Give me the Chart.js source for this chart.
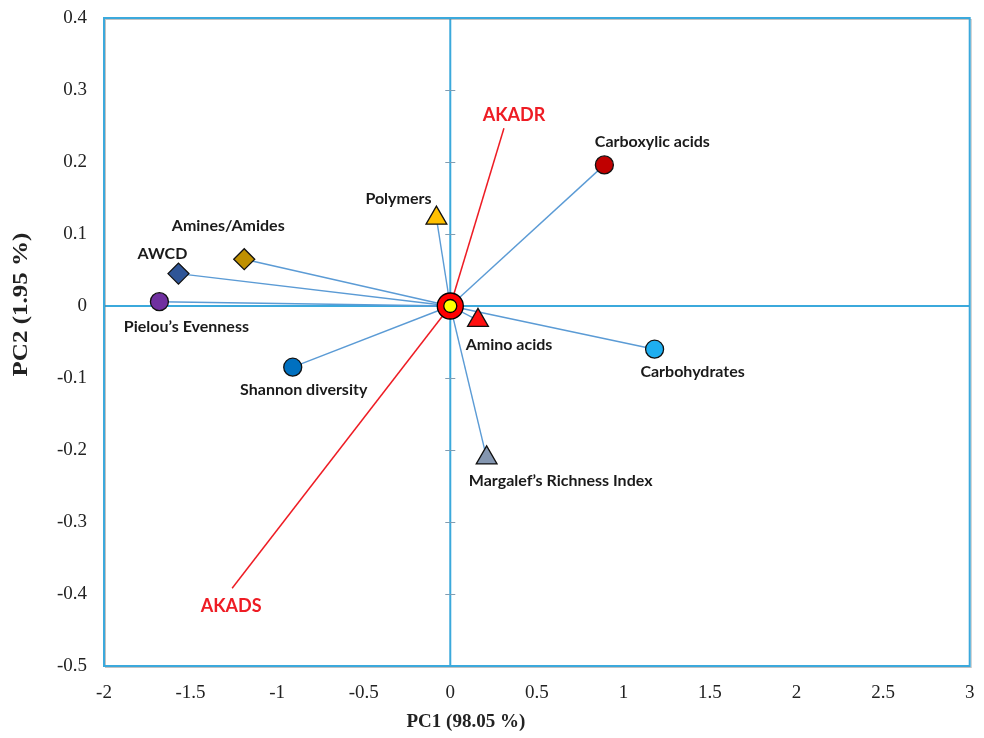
<!DOCTYPE html>
<html>
<head>
<meta charset="utf-8">
<script src="https://cdn.jsdelivr.net/npm/chart.js@4.4.1/dist/chart.umd.min.js"></script>
<style>
  html, body { margin: 0; padding: 0; background: #ffffff; }
  #wrap { width: 984px; height: 738px; position: relative; }
</style>
</head>
<body>
<div id="wrap"><canvas id="biplot"></canvas></div>
<script>
// PCA biplot: variable loadings and site vectors on PC1 / PC2
const variables = ['Carboxylic acids', 'Carbohydrates', 'Amino acids', 'Margalef\u2019s Richness Index',
                   'Polymers', 'Amines/Amides', 'AWCD', 'Pielou\u2019s Evenness', 'Shannon diversity'];
const pc1 = [0.89, 1.18, 0.16, 0.21, -0.08, -1.19, -1.57, -1.68, -0.91];
const pc2 = [0.196, -0.060, -0.020, -0.211, 0.122, 0.065, 0.045, 0.006, -0.085];

const sites = ['AKADR', 'AKADS'];
const sitePc1 = [0.31, -1.26];
const sitePc2 = [0.247, -0.392];

const xTickValues = [-2, -1.5, -1, -0.5, 0, 0.5, 1, 1.5, 2, 2.5, 3];
const yTickValues = [-0.5, -0.4, -0.3, -0.2, -0.1, 0, 0.1, 0.2, 0.3, 0.4];

const xTitle = 'PC1 (98.05 %)';
const yTitle = 'PC2 (1.95 %)';

// marker look per variable (same order as `variables`)
const markerShape = ['circle', 'circle', 'triangle', 'triangle', 'triangle', 'rectRot', 'rectRot', 'circle', 'circle'];
const markerFill = ['#c00000', '#1eaef0', '#ff1010', '#8496b0', '#ffc000', '#bf9000', '#2f5597', '#7030a0', '#0070c0'];
const markerSize = [9, 9, 12, 12, 12, 10.5, 10.5, 9, 9];
// label placement relative to the marker, in pixels
const labelShift = [[48, -23], [38, 23], [31, 24], [74, 23], [-38, -19], [-16, -33], [-16, -20], [27, 25], [11, 23]];
const siteLabelShift = [[10, -13], [-1, 18]];

const AXIS_BLUE = '#3ba9dc';
const VECTOR_BLUE = '#5b9bd5';
const SITE_RED = '#ee1c24';
const SERIF = '"Liberation Serif", "Times New Roman", serif';

const datasets = [];

// origin marker (drawn on top)
datasets.push({
  type: 'scatter', order: 0, data: [{ x: 0, y: 0 }],
  pointStyle: 'circle', pointRadius: 6.5, backgroundColor: '#ffff00', borderColor: '#000', borderWidth: 1.3
});
datasets.push({
  type: 'scatter', order: 1, data: [{ x: 0, y: 0 }],
  pointStyle: 'circle', pointRadius: 13, backgroundColor: '#ff0000', borderColor: '#000', borderWidth: 1.3
});

// variable markers
variables.forEach((name, i) => {
  datasets.push({
    type: 'scatter', order: 2, label: name, data: [{ x: pc1[i], y: pc2[i] }],
    pointStyle: markerShape[i], pointRadius: markerSize[i],
    backgroundColor: markerFill[i], borderColor: '#111', borderWidth: 1.3
  });
});

// loading vectors from the origin
variables.forEach((name, i) => {
  datasets.push({
    type: 'line', order: 4, data: [{ x: 0, y: 0 }, { x: pc1[i], y: pc2[i] }],
    borderColor: VECTOR_BLUE, borderWidth: 1.4, pointRadius: 0, fill: false
  });
});

// site vectors
sites.forEach((name, i) => {
  datasets.push({
    type: 'line', order: 3, data: [{ x: 0, y: 0 }, { x: sitePc1[i], y: sitePc2[i] }],
    borderColor: SITE_RED, borderWidth: 1.5, pointRadius: 0, fill: false
  });
});

// frame, zero axes, small ticks along the vertical zero line, axis titles
const framePlugin = {
  id: 'frame',
  beforeDatasetsDraw(chart) {
    const { ctx, chartArea: a, scales: { x, y } } = chart;
    ctx.save();
    ctx.strokeStyle = AXIS_BLUE;
    ctx.lineWidth = 2;
    const x0 = x.getPixelForValue(0);
    const y0 = y.getPixelForValue(0);
    ctx.beginPath();
    ctx.moveTo(a.left, y0); ctx.lineTo(a.right, y0);
    ctx.moveTo(x0, a.top); ctx.lineTo(x0, a.bottom);
    ctx.stroke();
    ctx.strokeStyle = '#7f9db3';
    ctx.lineWidth = 1.2;
    ctx.beginPath();
    yTickValues.forEach(v => {
      if (v === 0) return;
      const py = Math.round(y.getPixelForValue(v)) + 0.5;
      ctx.moveTo(x0 - 5, py); ctx.lineTo(x0 + 5, py);
    });
    ctx.stroke();
    ctx.restore();
  },
  afterDraw(chart) {
    const { ctx, chartArea: a, scales: { x, y } } = chart;
    ctx.save();
    ctx.strokeStyle = 'rgba(120,120,120,0.45)';
    ctx.lineWidth = 1;
    ctx.strokeRect(a.left + 1.5, a.top + 1.5, a.right - a.left, a.bottom - a.top);
    ctx.strokeStyle = AXIS_BLUE;
    ctx.lineWidth = 2;
    ctx.strokeRect(a.left, a.top, a.right - a.left, a.bottom - a.top);

    // axis titles
    ctx.fillStyle = '#222';
    ctx.textAlign = 'center';
    ctx.textBaseline = 'middle';
    ctx.font = 'bold 19px ' + SERIF;
    ctx.fillText(xTitle, x.getPixelForValue(0.09), 722);
    ctx.save();
    ctx.translate(22, y.getPixelForValue(0.002));
    ctx.rotate(-Math.PI / 2);
    ctx.scale(1.25, 1);
    ctx.font = 'bold 20px ' + SERIF;
    ctx.fillText(yTitle, 0, 0);
    ctx.restore();
    ctx.restore();
  }
};

// text labels next to markers and vector tips
const labelPlugin = {
  id: 'labels',
  afterDatasetsDraw(chart) {
    const { ctx, scales: { x, y } } = chart;
    ctx.save();
    ctx.textAlign = 'center';
    ctx.textBaseline = 'middle';
    ctx.font = 'bold 16px Lato, "Open Sans", sans-serif';
    ctx.fillStyle = '#1a1a1a';
    variables.forEach((name, i) => {
      const px = x.getPixelForValue(pc1[i]) + labelShift[i][0];
      const py = y.getPixelForValue(pc2[i]) + labelShift[i][1];
      ctx.fillText(name, px, py);
    });
    ctx.font = 'bold 18px Lato, "Open Sans", sans-serif';
    ctx.fillStyle = SITE_RED;
    sites.forEach((name, i) => {
      const px = x.getPixelForValue(sitePc1[i]) + siteLabelShift[i][0];
      const py = y.getPixelForValue(sitePc2[i]) + siteLabelShift[i][1];
      ctx.fillText(name, px, py);
    });
    ctx.restore();
  }
};

const tickFont = { family: SERIF, size: 19 };

new Chart(document.getElementById('biplot'), {
  data: { datasets },
  plugins: [framePlugin, labelPlugin],
  options: {
    responsive: true,
    maintainAspectRatio: false,
    animation: false,
    layout: { padding: { top: 18, right: 14, left: 0, bottom: 0 } },
    plugins: { legend: { display: false }, tooltip: { enabled: false } },
    scales: {
      x: {
        type: 'linear', min: -2, max: 3,
        afterBuildTicks(scale) { scale.ticks = xTickValues.map(v => ({ value: v })); },
        afterFit(scale) { scale.height = 72; scale.paddingLeft = 0; scale.paddingRight = 0; },
        grid: { display: false, drawTicks: false },
        border: { display: false },
        ticks: { font: tickFont, color: '#222', padding: 16, maxRotation: 0, autoSkip: false,
                 callback: v => String(v) },
        title: { display: false }
      },
      y: {
        type: 'linear', min: -0.5, max: 0.4,
        afterBuildTicks(scale) { scale.ticks = yTickValues.map(v => ({ value: v })); },
        afterFit(scale) { scale.width = 104; scale.paddingTop = 0; scale.paddingBottom = 0; },
        grid: { display: false, drawTicks: false },
        border: { display: false },
        ticks: { font: tickFont, color: '#222', padding: 17, autoSkip: false,
                 callback: v => String(Math.round(v * 10) / 10) },
        title: { display: false }
      }
    }
  }
});
</script>
</body>
</html>
